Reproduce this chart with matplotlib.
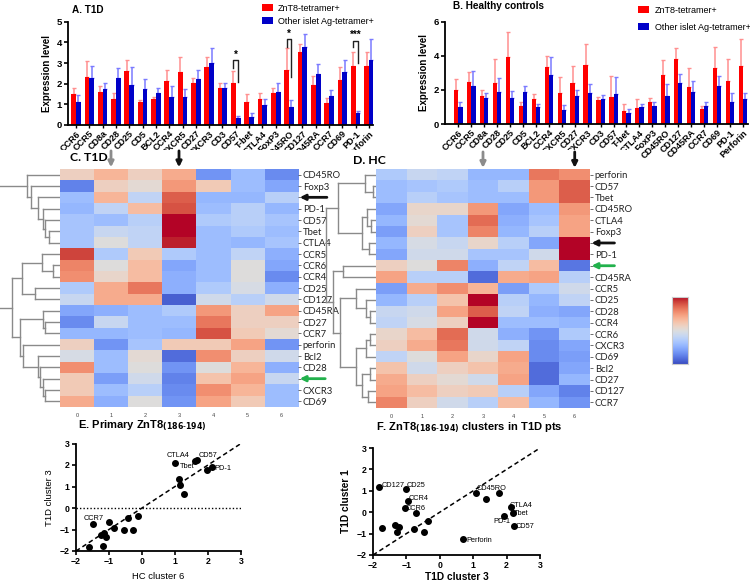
import numpy as np
import matplotlib
matplotlib.use("Agg")
import matplotlib.pyplot as plt

plt.rcParams['font.family'] = ['Liberation Sans', 'DejaVu Sans']

# ---------------- data ----------------
markers = ["CCR6", "CCR5", "CD8a", "CD28", "CD25", "CD5", "BCL2", "CCR4", "CXCR5", "CD27",
           "CXCR3", "CD3", "CD57", "T-bet", "CTLA4", "FoxP3", "CD45RO", "CD127", "CD45RA",
           "CCR7", "CD69", "PD-1", "Perforin"]

t1d_znt8 = [1.48, 2.34, 1.61, 1.26, 2.63, 1.10, 1.24, 2.13, 2.55, 2.02, 2.79, 1.81, 2.02,
            1.13, 1.24, 1.56, 2.66, 3.55, 1.94, 1.05, 2.18, 2.87, 2.85]
t1d_znt8_sem = [0.33, 0.77, 0.29, 0.30, 0.52, 0.11, 0.13, 0.53, 0.72, 0.24, 0.52, 0.21, 0.61,
                0.35, 0.32, 0.21, 1.08, 0.37, 0.43, 0.24, 0.61, 0.65, 0.67]
t1d_other = [1.13, 2.29, 1.73, 2.26, 1.94, 1.73, 1.56, 1.37, 1.37, 2.23, 2.98, 1.81, 0.32,
             0.40, 0.97, 1.61, 0.89, 3.76, 2.45, 1.40, 2.58, 0.56, 3.15]
t1d_other_sem = [0.32, 0.56, 0.29, 0.48, 0.85, 0.50, 0.21, 0.52, 0.36, 0.43, 0.73, 0.24, 0.12,
                 0.16, 0.29, 0.41, 0.32, 0.64, 0.50, 0.29, 0.57, 0.12, 1.01]

hc_znt8 = [2.00, 2.44, 1.64, 2.42, 3.91, 1.07, 1.46, 3.36, 1.84, 2.38, 3.44, 1.41, 1.60,
           0.78, 0.96, 1.27, 2.87, 3.79, 2.19, 0.86, 3.30, 2.52, 3.40]
hc_znt8_sem = [0.64, 0.63, 0.35, 1.39, 1.50, 0.20, 0.30, 0.64, 0.89, 1.04, 1.25, 0.15, 1.21,
               0.39, 0.49, 0.27, 0.88, 0.68, 1.07, 0.21, 1.19, 1.27, 1.56]
hc_other = [1.02, 2.23, 1.54, 1.89, 1.50, 1.86, 1.02, 2.87, 0.82, 1.66, 1.84, 1.46, 1.74,
            0.63, 0.98, 1.05, 1.64, 2.38, 1.89, 1.05, 2.23, 1.31, 1.45]
hc_other_sem = [0.25, 0.87, 0.26, 0.79, 0.45, 0.37, 0.15, 1.04, 0.27, 0.33, 0.48, 0.24, 1.03,
                0.25, 0.21, 0.22, 0.70, 0.53, 0.63, 0.26, 0.58, 0.53, 0.35]

# significance brackets: (marker index, bracket top, left foot, right foot, stars)
t1d_brackets = [(12, 3.15, 2.74, 2.10, "*"), (16, 4.16, 3.79, 2.34, "*"), (21, 4.08, 3.79, 2.98, "***")]

# heatmap C (T1D clusters 0-6)
hm_c_rows = ["CD45RO", "Foxp3", "", "PD-1", "CD57", "Tbet", "CTLA4", "CCR5", "CCR6", "CCR4",
             "CD25", "CD127", "CD45RA", "CD27", "CCR7", "perforin", "Bcl2", "CD28", "", "CXCR3", "CD69"]
hm_c = [[0.15, 0.35, 0.15, 0.40, -0.65, -0.40, -0.70],
        [-0.75, 0.15, 0.05, 0.50, 0.20, -0.40, -0.55],
        [-0.40, 0.35, -0.20, 0.75, -0.45, -0.45, -0.25],
        [-0.45, -0.20, 0.30, 0.80, -0.40, -0.25, -0.45],
        [-0.35, -0.40, -0.25, 1.00, -0.30, -0.25, -0.35],
        [-0.35, -0.15, -0.20, 1.00, -0.40, -0.30, -0.40],
        [-0.35, 0.00, -0.20, 0.95, -0.40, -0.45, -0.35],
        [0.85, -0.30, 0.20, -0.30, -0.40, -0.20, -0.50],
        [0.60, 0.00, 0.30, -0.55, -0.40, 0.00, -0.55],
        [0.55, 0.10, 0.30, -0.50, -0.40, 0.00, -0.70],
        [-0.30, 0.40, 0.65, -0.50, -0.30, -0.05, -0.50],
        [-0.15, 0.40, 0.40, -0.90, -0.10, -0.25, -0.10],
        [-0.55, -0.50, -0.40, -0.30, 0.50, 0.15, 0.45],
        [-0.70, -0.15, -0.40, -0.40, 0.65, 0.15, 0.15],
        [-0.45, -0.45, -0.40, -0.45, 0.80, 0.20, 0.05],
        [0.15, -0.65, -0.35, 0.20, 0.20, 0.45, -0.65],
        [-0.05, -0.40, 0.05, -0.85, 0.55, 0.15, -0.10],
        [0.55, -0.40, 0.00, -0.65, 0.00, 0.35, -0.50],
        [0.20, -0.60, -0.10, -0.75, 0.25, 0.45, -0.15],
        [0.20, -0.40, -0.25, -0.70, 0.55, 0.35, -0.40],
        [0.40, -0.50, 0.00, -0.65, 0.45, 0.20, -0.40]]
# dendrogram C: (child a, child b, merge height)
dendro_c = [(5, 6, 10.7), (4, 21, 15.0), (3, 22, 16.7), (2, 23, 21.7), (1, 24, 29.3), (0, 25, 33.3),
            (8, 9, 6.7), (7, 27, 18.3), (10, 11, 25.0), (28, 29, 38.3),
            (13, 14, 15.0), (12, 31, 16.7), (19, 20, 15.0), (18, 33, 16.7), (17, 34, 20.0),
            (16, 35, 21.7), (15, 36, 36.7), (32, 37, 40.0), (30, 38, 48.3), (26, 39, 62.0)]

# heatmap D (HC clusters 0-6)
hm_d_rows = ["perforin", "CD57", "Tbet", "CD45RO", "CTLA4", "Foxp3", "", "PD-1", "", "CD45RA",
             "CCR5", "CD25", "CD28", "CCR4", "CCR6", "CXCR3", "CD69", "Bcl2", "CD27", "CD127", "CCR7"]
hm_d = [[-0.30, -0.15, -0.20, -0.45, -0.45, 0.65, 0.55],
        [-0.40, -0.35, -0.30, -0.40, -0.25, 0.50, 0.75],
        [-0.40, -0.25, -0.35, -0.40, -0.40, 0.50, 0.75],
        [-0.55, 0.10, 0.10, 0.50, -0.55, -0.40, 0.50],
        [-0.45, 0.05, -0.35, 0.70, -0.50, -0.35, 0.45],
        [-0.60, 0.15, -0.35, 0.60, -0.45, -0.25, 0.45],
        [-0.45, -0.05, -0.15, 0.10, -0.25, -0.55, 1.00],
        [-0.55, -0.10, -0.10, -0.35, -0.35, -0.10, 1.00],
        [0.15, 0.00, 0.60, -0.50, -0.20, 0.30, -0.80],
        [0.45, -0.25, -0.25, -0.85, 0.40, 0.45, -0.25],
        [-0.60, 0.40, 0.55, 0.35, -0.60, -0.30, -0.10],
        [-0.45, -0.25, 0.25, 1.00, -0.25, -0.45, -0.20],
        [-0.15, -0.10, 0.45, 0.75, -0.20, -0.50, -0.55],
        [-0.20, -0.05, 0.15, 1.00, -0.40, -0.40, -0.45],
        [0.10, 0.30, 0.70, -0.10, -0.50, -0.65, -0.30],
        [0.15, 0.40, 0.65, -0.10, -0.20, -0.70, -0.55],
        [-0.20, 0.00, 0.45, 0.10, 0.45, -0.70, -0.60],
        [0.25, -0.10, 0.15, 0.25, 0.40, -0.85, -0.55],
        [0.40, 0.15, 0.05, -0.10, 0.45, -0.85, -0.45],
        [0.45, 0.30, 0.15, 0.20, -0.25, -0.55, -0.75],
        [0.60, 0.15, -0.10, -0.25, 0.30, -0.45, -0.65]]
dendro_d = [(1, 2, 3.0), (0, 21, 11.0), (4, 5, 5.0), (3, 23, 9.0), (6, 7, 7.0), (24, 25, 14.0),
            (22, 26, 38.0), (8, 9, 33.0), (12, 13, 6.0), (11, 29, 10.0), (10, 30, 20.0),
            (14, 15, 6.0), (32, 16, 10.0), (17, 18, 6.0), (19, 20, 8.0), (34, 35, 14.0),
            (33, 36, 20.0), (31, 37, 36.0), (28, 38, 43.0), (27, 39, 50.0)]

# scatter E
e_x = [1.01, 1.60, 1.66, 1.97, 2.12, 1.12, 1.16, 1.26, -1.48, -1.00, -0.42, -0.13, -0.84,
       -0.56, -0.26, -1.24, -1.14, -1.09, -1.17, -1.60]
e_y = [2.11, 2.17, 2.22, 1.77, 1.89, 1.36, 1.06, 0.67, -0.74, -0.66, -0.47, -0.35, -0.94,
       -1.03, -1.00, -1.27, -1.17, -1.35, -1.75, -1.83]
e_labels = [("CTLA4", 1.10, 2.43), ("CD57", 1.99, 2.42), ("Tbet", 1.36, 1.92),
            ("PD-1", 2.45, 1.86), ("CCR7", -1.46, -0.48)]
# scatter F
f_x = [-1.83, -1.02, -0.96, -1.04, -0.70, -1.74, -1.35, -1.21, -1.28, -0.76, -0.47, -0.35,
       0.68, 1.08, 1.37, 1.78, 2.13, 2.18, 1.92, 2.23]
f_y = [1.17, 1.08, 0.52, 0.19, -0.05, -0.72, -0.60, -0.70, -0.92, -0.77, -0.92, -0.41,
       -1.27, 0.92, 0.62, 0.92, 0.26, -0.05, -0.16, -0.64]
f_labels = [("CD127", -1.39, 1.23), ("CD25", -0.70, 1.23), ("CCR4", -0.63, 0.66),
            ("CCR6", -0.71, 0.17), ("CD45RO", 1.55, 1.13), ("CTLA4", 2.44, 0.30),
            ("Tbet", 2.43, -0.05), ("PD-1", 1.85, -0.44), ("CD57", 2.56, -0.67),
            ("Perforin", 1.17, -1.30)]
identity_line = [-2, 3]

# ---------------- figure ----------------
W, H = 750, 582
fig = plt.figure(figsize=(W / 100, H / 100), dpi=100)


def R(l, t, r, b):
    return [l / W, 1 - b / H, (r - l) / W, (b - t) / H]


RED = "#ff0000"
BLUE = "#0000c8"
GRAY_DEN = "#8a8a8a"


def bar_panel(rect, znt8, znt8_sem, other, other_sem, ymax, yticks, xlim, width, brackets):
    ax = fig.add_axes(rect)
    ax.set_zorder(0)
    x = np.arange(len(markers))
    n = len(markers)
    ax.bar(x - width / 2, znt8, width, color=RED, label="ZnT8-tetramer+", zorder=2)
    ax.bar(x + width / 2, other, width, color=BLUE, label="Other islet Ag-tetramer+", zorder=2)
    ax.errorbar(x - width / 2, znt8, yerr=[np.zeros(n), znt8_sem], fmt="none",
                ecolor="#ff8f8f", elinewidth=1.1, capsize=1.3, capthick=1.0, zorder=1)
    ax.errorbar(x + width / 2, other, yerr=[np.zeros(n), other_sem], fmt="none",
                ecolor="#7a7aff", elinewidth=1.1, capsize=1.3, capthick=1.0, zorder=1)
    for (i, top, lf, rf, s) in brackets:
        xl, xr = i - width / 2, i + width / 2
        ax.plot([xl, xl, xr, xr], [lf, top, top, rf], color="#222222", lw=1.0, zorder=3)
        ax.text(i, top + 0.02, s, ha="center", va="bottom", fontsize=7, fontweight="bold")
    ax.set_xlim(*xlim)
    ax.set_ylim(0, ymax)
    ax.set_yticks(yticks)
    ax.set_xticks(x)
    ax.set_xticklabels(markers, rotation=45, ha="right", rotation_mode="anchor",
                       fontsize=6.5, fontweight="bold")
    for lab in ax.get_yticklabels():
        lab.set_fontweight("bold")
    ax.tick_params(axis="y", length=3, width=1.2, labelsize=6.8, pad=1.5)
    ax.tick_params(axis="x", length=2, width=1.0, pad=1)
    for s in ["top", "right"]:
        ax.spines[s].set_visible(False)
    for s in ["left", "bottom"]:
        ax.spines[s].set_linewidth(1.3)
    ax.set_ylabel("Expression level", fontsize=7, fontweight="bold", labelpad=3)
    return ax


axA = bar_panel(R(68, 21.7, 373, 125), t1d_znt8, t1d_znt8_sem, t1d_other, t1d_other_sem,
                5, [0, 1, 2, 3, 4, 5], (-0.6, 22.3), 0.36, t1d_brackets)
axB = bar_panel(R(445, 21.7, 748, 124), hc_znt8, hc_znt8_sem, hc_other, hc_other_sem,
                6, [0, 2, 4, 6], (-1.03, 22.4), 0.33, [])
fig.text(72 / W, 1 - 10 / H, "A. T1D", fontsize=7.2, fontweight="bold", va="center")
fig.text(453 / W, 1 - 6 / H, "B. Healthy controls", fontsize=7.2, fontweight="bold", va="center")
axA.legend(loc="upper left", bbox_to_anchor=(258 / W, 1 - 0 / H), bbox_transform=fig.transFigure,
           frameon=False, fontsize=6.5, handlelength=1.3, handleheight=0.75, labelspacing=0.45,
           handletextpad=0.5, borderaxespad=0)
axB.legend(loc="upper left", bbox_to_anchor=(634 / W, 1 - 2 / H), bbox_transform=fig.transFigure,
           frameon=False, fontsize=6.5, handlelength=1.3, handleheight=0.75, labelspacing=0.9,
           handletextpad=0.6, borderaxespad=0)

# white panel covering the bar labels overflow (as in the composite figure)
cover = fig.add_axes(R(0, 150, 640, 420))
cover.set_zorder(1)
cover.set_facecolor("white")
cover.set_xticks([])
cover.set_yticks([])
for s in cover.spines.values():
    s.set_visible(False)


def dendrogram(rect, links, nleaf, hmax):
    ax = fig.add_axes(rect)
    ax.set_zorder(2)
    pos = {i: (float(i), 0.0) for i in range(nleaf)}
    for k, (a, b, h) in enumerate(links):
        ya, ha = pos[a]
        yb, hb = pos[b]
        ax.plot([ha, h], [ya, ya], color=GRAY_DEN, lw=1.0)
        ax.plot([hb, h], [yb, yb], color=GRAY_DEN, lw=1.0)
        ax.plot([h, h], [ya, yb], color=GRAY_DEN, lw=1.0)
        pos[nleaf + k] = ((ya + yb) / 2, h)
    ax.set_xlim(hmax, 0)
    ax.set_ylim(nleaf - 0.5, -0.5)
    ax.axis("off")
    return ax


def heatmap(rect, values, rows):
    ax = fig.add_axes(rect)
    ax.set_zorder(2)
    ax.imshow(np.array(values), cmap="coolwarm", vmin=-1, vmax=1, aspect="auto",
              interpolation="nearest")
    ax.yaxis.tick_right()
    ax.set_yticks(range(len(rows)))
    ax.set_yticklabels(rows, fontsize=6.8, family="Lato", color="#222222")
    ax.set_xticks(range(len(values[0])))
    ax.set_xticklabels([str(i) for i in range(len(values[0]))], fontsize=4, color="#444444")
    ax.tick_params(axis="y", length=2, width=0.6, color="#555555", pad=1.5)
    ax.tick_params(axis="x", length=0, pad=4)
    for s in ax.spines.values():
        s.set_visible(False)
    return ax


def arrow(ax, xy, xytext, color):
    ax.annotate("", xy=xy, xytext=xytext, xycoords="data", textcoords="data",
                annotation_clip=False,
                arrowprops=dict(arrowstyle="-|>", color=color, lw=2.0, mutation_scale=8,
                                shrinkA=0, shrinkB=0))


dendrogram(R(0, 169, 60, 407), dendro_c, 21, 60)
axC = heatmap(R(60, 169, 298, 407), hm_c, hm_c_rows)
dendrogram(R(318, 169, 376, 408), dendro_d, 21, 58)
axD = heatmap(R(376, 169, 590, 408), hm_d, hm_d_rows)

fig.text(70 / W, 1 - 158 / H, "C. T1D", fontsize=8.8, fontweight="bold", family="Lato", va="center")
fig.text(353 / W, 1 - 161 / H, "D. HC", fontsize=8.8, fontweight="bold", family="Lato", va="center")

arrow(axC, (1, -0.65), (1, -2.1), "#8c8c8c")
arrow(axC, (3, -0.65), (3, -2.1), "#111111")
arrow(axC, (6.55, 2), (7.35, 2), "#111111")
arrow(axC, (6.55, 18), (7.3, 18), "#22b14c")
arrow(axD, (3, -0.6), (3, -2.0), "#8c8c8c")
arrow(axD, (6, -0.6), (6, -2.0), "#111111")
arrow(axD, (6.55, 6), (7.3, 6), "#111111")
arrow(axD, (6.55, 8), (7.3, 8), "#22b14c")

axCB = fig.add_axes(R(672, 297, 688, 364))
axCB.imshow(np.linspace(1, -1, 200)[:, None], cmap="coolwarm", vmin=-1, vmax=1, aspect="auto")
axCB.set_xticks([])
axCB.set_yticks([])
for s in axCB.spines.values():
    s.set_color("#cccccc")
    s.set_linewidth(0.8)


def scatter_panel(rect, xs, ys, labels, xlabel, ylabel, bold_axis_labels, zero_line, xpad):
    ax = fig.add_axes(rect)
    ax.plot(identity_line, identity_line, color="black", lw=1.1, ls=(0, (3, 2)), zorder=1)
    if zero_line:
        ax.axhline(0, color="black", lw=1.0, ls=(0, (1, 1.5)), zorder=1)
    ax.plot(xs, ys, "o", color="black", ms=4, zorder=3)
    for (t, lx, ly) in labels:
        ax.text(lx, ly, t, fontsize=5.3, ha="center", va="center", zorder=4)
    ax.set_xlim(-2, 3)
    ax.set_ylim(-2, 3)
    ax.set_xticks([-2, -1, 0, 1, 2, 3])
    ax.set_yticks([-2, -1, 0, 1, 2, 3])
    for lab in ax.get_xticklabels() + ax.get_yticklabels():
        lab.set_fontweight("bold")
    ax.tick_params(length=3, width=1.2, labelsize=6.3, pad=1.5)
    for s in ["top", "right"]:
        ax.spines[s].set_visible(False)
    for s in ["left", "bottom"]:
        ax.spines[s].set_linewidth(1.3)
    w = "bold" if bold_axis_labels else "normal"
    fs = 7.3 if bold_axis_labels else 6.8
    ax.set_xlabel(xlabel, fontsize=fs, fontweight=w, labelpad=xpad)
    ax.set_ylabel(ylabel, fontsize=fs, fontweight=w, labelpad=4)
    return ax


scatter_panel(R(76, 443.5, 241, 551), e_x, e_y, e_labels, "HC cluster 6", "T1D cluster 3",
              False, True, 4)
scatter_panel(R(373, 448, 540, 555), f_x, f_y, f_labels, "T1D cluster 3", "T1D cluster 1",
              True, False, 1.0)

fig.text(78 / W, 1 - 426 / H, r"E. Primary ZnT8$_{\mathbf{(186\text{-}194)}}$",
         fontsize=8, fontweight="bold", va="center")
fig.text(376 / W, 1 - 428 / H, r"F. ZnT8$_{\mathbf{(186\text{-}194)}}$ clusters in T1D pts",
         fontsize=8, fontweight="bold", va="center")

fig.savefig("out.png", dpi=100, facecolor="white")
